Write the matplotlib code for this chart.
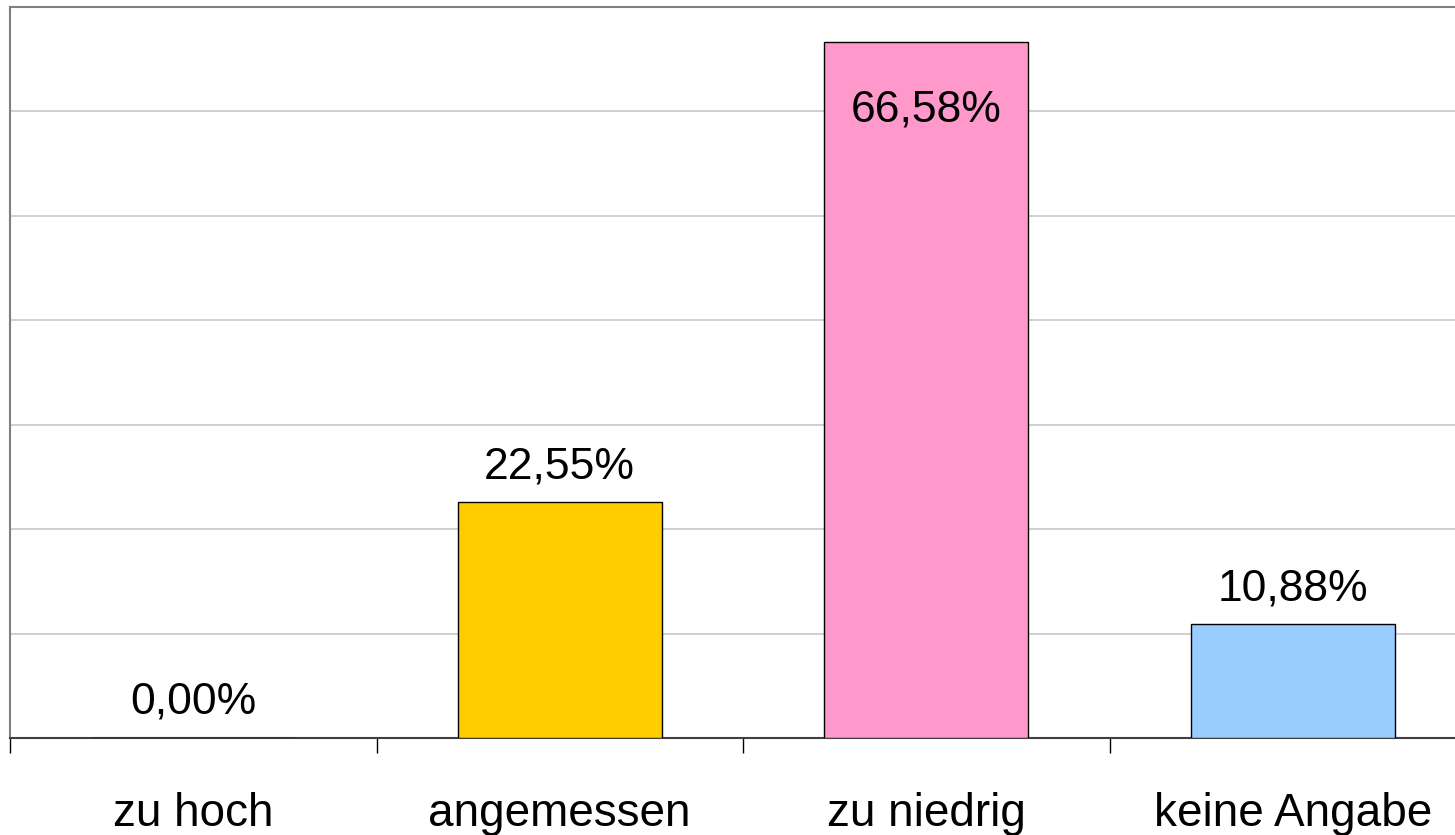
import matplotlib
matplotlib.use("Agg")
import matplotlib.pyplot as plt

# Bewertung (Anteile in Prozent)
categories = ['zu hoch', 'angemessen', 'zu niedrig', 'keine Angabe']
values = [0.00, 22.55, 66.58, 10.88]
bar_colors = ['#FFCC00', '#FFCC00', '#FF99CC', '#99CCFF']
value_labels = ['0,00%', '22,55%', '66,58%', '10,88%']

plt.rcParams['font.family'] = ['Liberation Sans', 'DejaVu Sans']

fig = plt.figure(figsize=(14.55, 8.35), dpi=100)
# axes run past the right edge like in the original export
ax = fig.add_axes([10 / 1455, 97 / 835, 1466 / 1455, 731.5 / 835])

x = range(len(categories))
ax.bar(x, values, width=0.556, color=bar_colors, edgecolor='black', linewidth=1, zorder=3)

ax.set_xlim(-0.5, 3.5)
ax.set_ylim(0, 70)
ax.set_yticks(range(0, 71, 10))
ax.yaxis.grid(True, color='#C8C8C8', linewidth=1.2, zorder=0)
ax.tick_params(axis='y', left=False, labelleft=False)

# ticks between the categories, labels centered under bars
ax.set_xticks([-0.5, 0.5, 1.5, 2.5])
ax.set_xticklabels([])
ax.set_xticks(list(x), minor=True)
ax.set_xticklabels(categories, minor=True, fontsize=33)
ax.tick_params(axis='x', which='major', direction='out', length=11, width=1, color='black')
ax.tick_params(axis='x', which='minor', length=0, pad=39)

for side in ['left', 'top']:
    ax.spines[side].set_color('#808080')
    ax.spines[side].set_linewidth(1.5)
ax.spines['right'].set_visible(False)
ax.spines['bottom'].set_color('#404040')
ax.spines['bottom'].set_linewidth(1.5)

for xi, v, lab in zip(x, values, value_labels):
    if v > 60:
        ax.annotate(lab, (xi, v), xytext=(0, -34), textcoords='offset points',
                    ha='center', va='top', fontsize=32)
    else:
        ax.annotate(lab, (xi, v), xytext=(0, 11), textcoords='offset points',
                    ha='center', va='bottom', fontsize=32)

fig.savefig('out.png', dpi=100)
